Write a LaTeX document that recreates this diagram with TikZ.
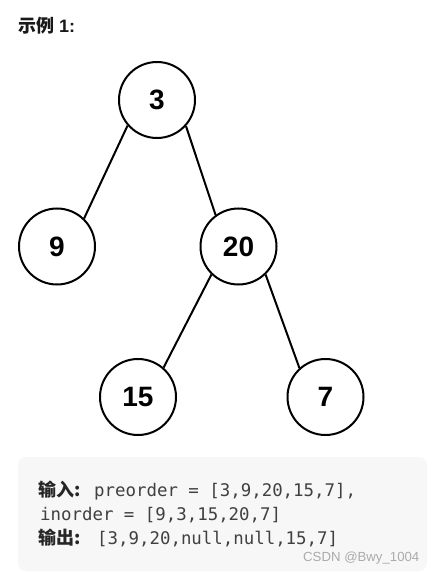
\documentclass[tikz,border=0pt]{standalone}
\usepackage{fontspec}
\setmainfont{Liberation Sans}
\newfontfamily\cjk{Noto Sans CJK SC}
\newfontfamily\monof{DejaVu Sans Mono}
\definecolor{boxbg}{HTML}{F7F7F8}
\definecolor{codec}{HTML}{404040}
\definecolor{wm}{HTML}{ABABAB}
\tikzset{
  tnode/.style={circle, draw=black, line width=2pt, minimum size=76pt, inner sep=0pt,
    font=\fontsize{28}{28}\selectfont\bfseries},
  tedge/.style={line width=2pt, black},
  codeline/.style={anchor=base west, inner sep=0pt, text=codec, font=\fontsize{17.4}{17.4}\selectfont\monof},
  cjklabel/.style={anchor=base west, inner sep=0pt, text=black!85, font=\fontsize{18}{18}\selectfont\cjk\bfseries},
}
\begin{document}
\begin{tikzpicture}[x=1pt,y=-1pt]
\useasboundingbox (0,0) rectangle (433,572);
\fill[white] (0,0) rectangle (433,572);
\node[anchor=base west, inner sep=0pt, text=black!90, font=\fontsize{18}{18}\selectfont\bfseries] (title) at (18,33) {{\cjk\bfseries 示例} 1:};

\node[tnode] (n3) at (157,100) {3};
\node[tnode] (n9) at (57,246.5) {9};
\node[tnode] (n20) at (238.5,246.5) {20};
\node[tnode] (n15) at (138,397) {15};
\node[tnode] (n7) at (325.5,397) {7};
\draw[tedge] (n3.221) -- (n9.46);
\draw[tedge] (n3.318) -- (n20.126);
\draw[tedge] (n20.226) -- (n15.49);
\draw[tedge] (n20.314) -- (n7.132);

\fill[boxbg, rounded corners=8pt] (18,457) rectangle (427,571);
\node[cjklabel] (k1) at (38,496) {输入:};
\node[codeline] (l1) at (94,496) {preorder = [3,9,20,15,7],};
\node[codeline] (l2) at (40,520) {inorder = [9,3,15,20,7]};
\node[cjklabel] (k3) at (38,544) {输出:};
\node[codeline] (l3) at (97,544) {[3,9,20,null,null,15,7]};
\node[anchor=base west, inner sep=0pt, text=wm, font=\fontsize{13.2}{13.2}\selectfont] (wmk) at (303,561) {CSDN @Bwy\_1004};
\end{tikzpicture}
\end{document}
